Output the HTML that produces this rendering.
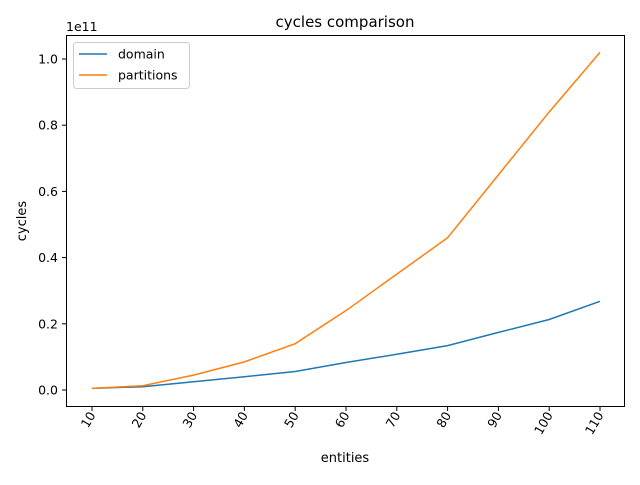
<!DOCTYPE html>
<html><head><meta charset="utf-8"><style>body{margin:0;background:#fff}svg{font-family:"DejaVu Sans","Liberation Sans",sans-serif}</style></head>
<body>
<svg id="chart" width="640" height="480" xmlns="http://www.w3.org/2000/svg">
<rect x="0" y="0" width="640" height="480" fill="#fff"/>
<text x="345" y="27" font-size="15" text-anchor="middle">cycles comparison</text>
<text x="345" y="462" font-size="13" text-anchor="middle">entities</text>
<text x="0" y="0" font-size="13" text-anchor="middle" transform="translate(26,221) rotate(-90)">cycles</text>
<text x="66" y="31" font-size="12.5">1e11</text>
<g id="ticks"></g>
<g id="lines"></g>
<rect x="66.5" y="35.5" width="558" height="371" fill="none" stroke="#000" stroke-width="1"/>
<g>
<rect x="73.5" y="42.5" width="116" height="46" rx="3" fill="#fff" fill-opacity="0.8" stroke="#ccc"/>
<line x1="79" y1="54" x2="107" y2="54" stroke="#1f77b4" stroke-width="1.5"/>
<text x="118" y="58.5" font-size="12.5">domain</text>
<line x1="79" y1="75" x2="107" y2="75" stroke="#ff7f0e" stroke-width="1.5"/>
<text x="118" y="79.5" font-size="12.5">partitions</text>
</g>
</svg>
<script>
const categories=[10,20,30,40,50,60,70,80,90,100,110];
const domainValues=[0.005,0.01,0.025,0.04,0.056,0.083,0.108,0.134,0.174,0.213,0.268];
const partitionValues=[0.005,0.013,0.045,0.085,0.14,0.24,0.35,0.46,0.65,0.84,1.02];
const yTickValues=[0,0.2,0.4,0.6,0.8,1.0];
const yTickLabels=["0.0","0.2","0.4","0.6","0.8","1.0"];
const NS="http://www.w3.org/2000/svg";
function xs(v){return 92+(v-10)*50.8/10;}
function ys(v){return 390-v*331;}
function mk(t,a,p){const e=document.createElementNS(NS,t);for(const k in a)e.setAttribute(k,a[k]);p.appendChild(e);return e;}
const tg=document.getElementById('ticks');
yTickValues.forEach((v,i)=>{
 const l=mk('line',{x1:62,x2:66,y1:ys(v),y2:ys(v),stroke:'#000'},tg);
 
 
 const t=mk('text',{x:58,y:ys(v)+4.5,'font-size':12.5,'text-anchor':'end'},tg);
 t.textContent=yTickLabels[i];
 
 
});
categories.forEach(c=>{
 const x=xs(c);
 const l=mk('line',{x1:x,x2:x,y1:407,y2:411,stroke:'#000'},tg);
 
 
 const t=mk('text',{x:0,y:0,'font-size':12.5,'text-anchor':'end',transform:`translate(${x+4},${415}) rotate(-60)`},tg);
 t.textContent=String(c);
 
 
});
const lg=document.getElementById('lines');
function line(vals,color,name){
 const p=mk('polyline',{points:vals.map((v,i)=>xs(categories[i])+','+ys(v)).join(' '),fill:'none',stroke:color,'stroke-width':1.5},lg);
 
 
}
line(domainValues,'#1f77b4','domain-line');
line(partitionValues,'#ff7f0e','partitions-line');
</script>
</body></html>
